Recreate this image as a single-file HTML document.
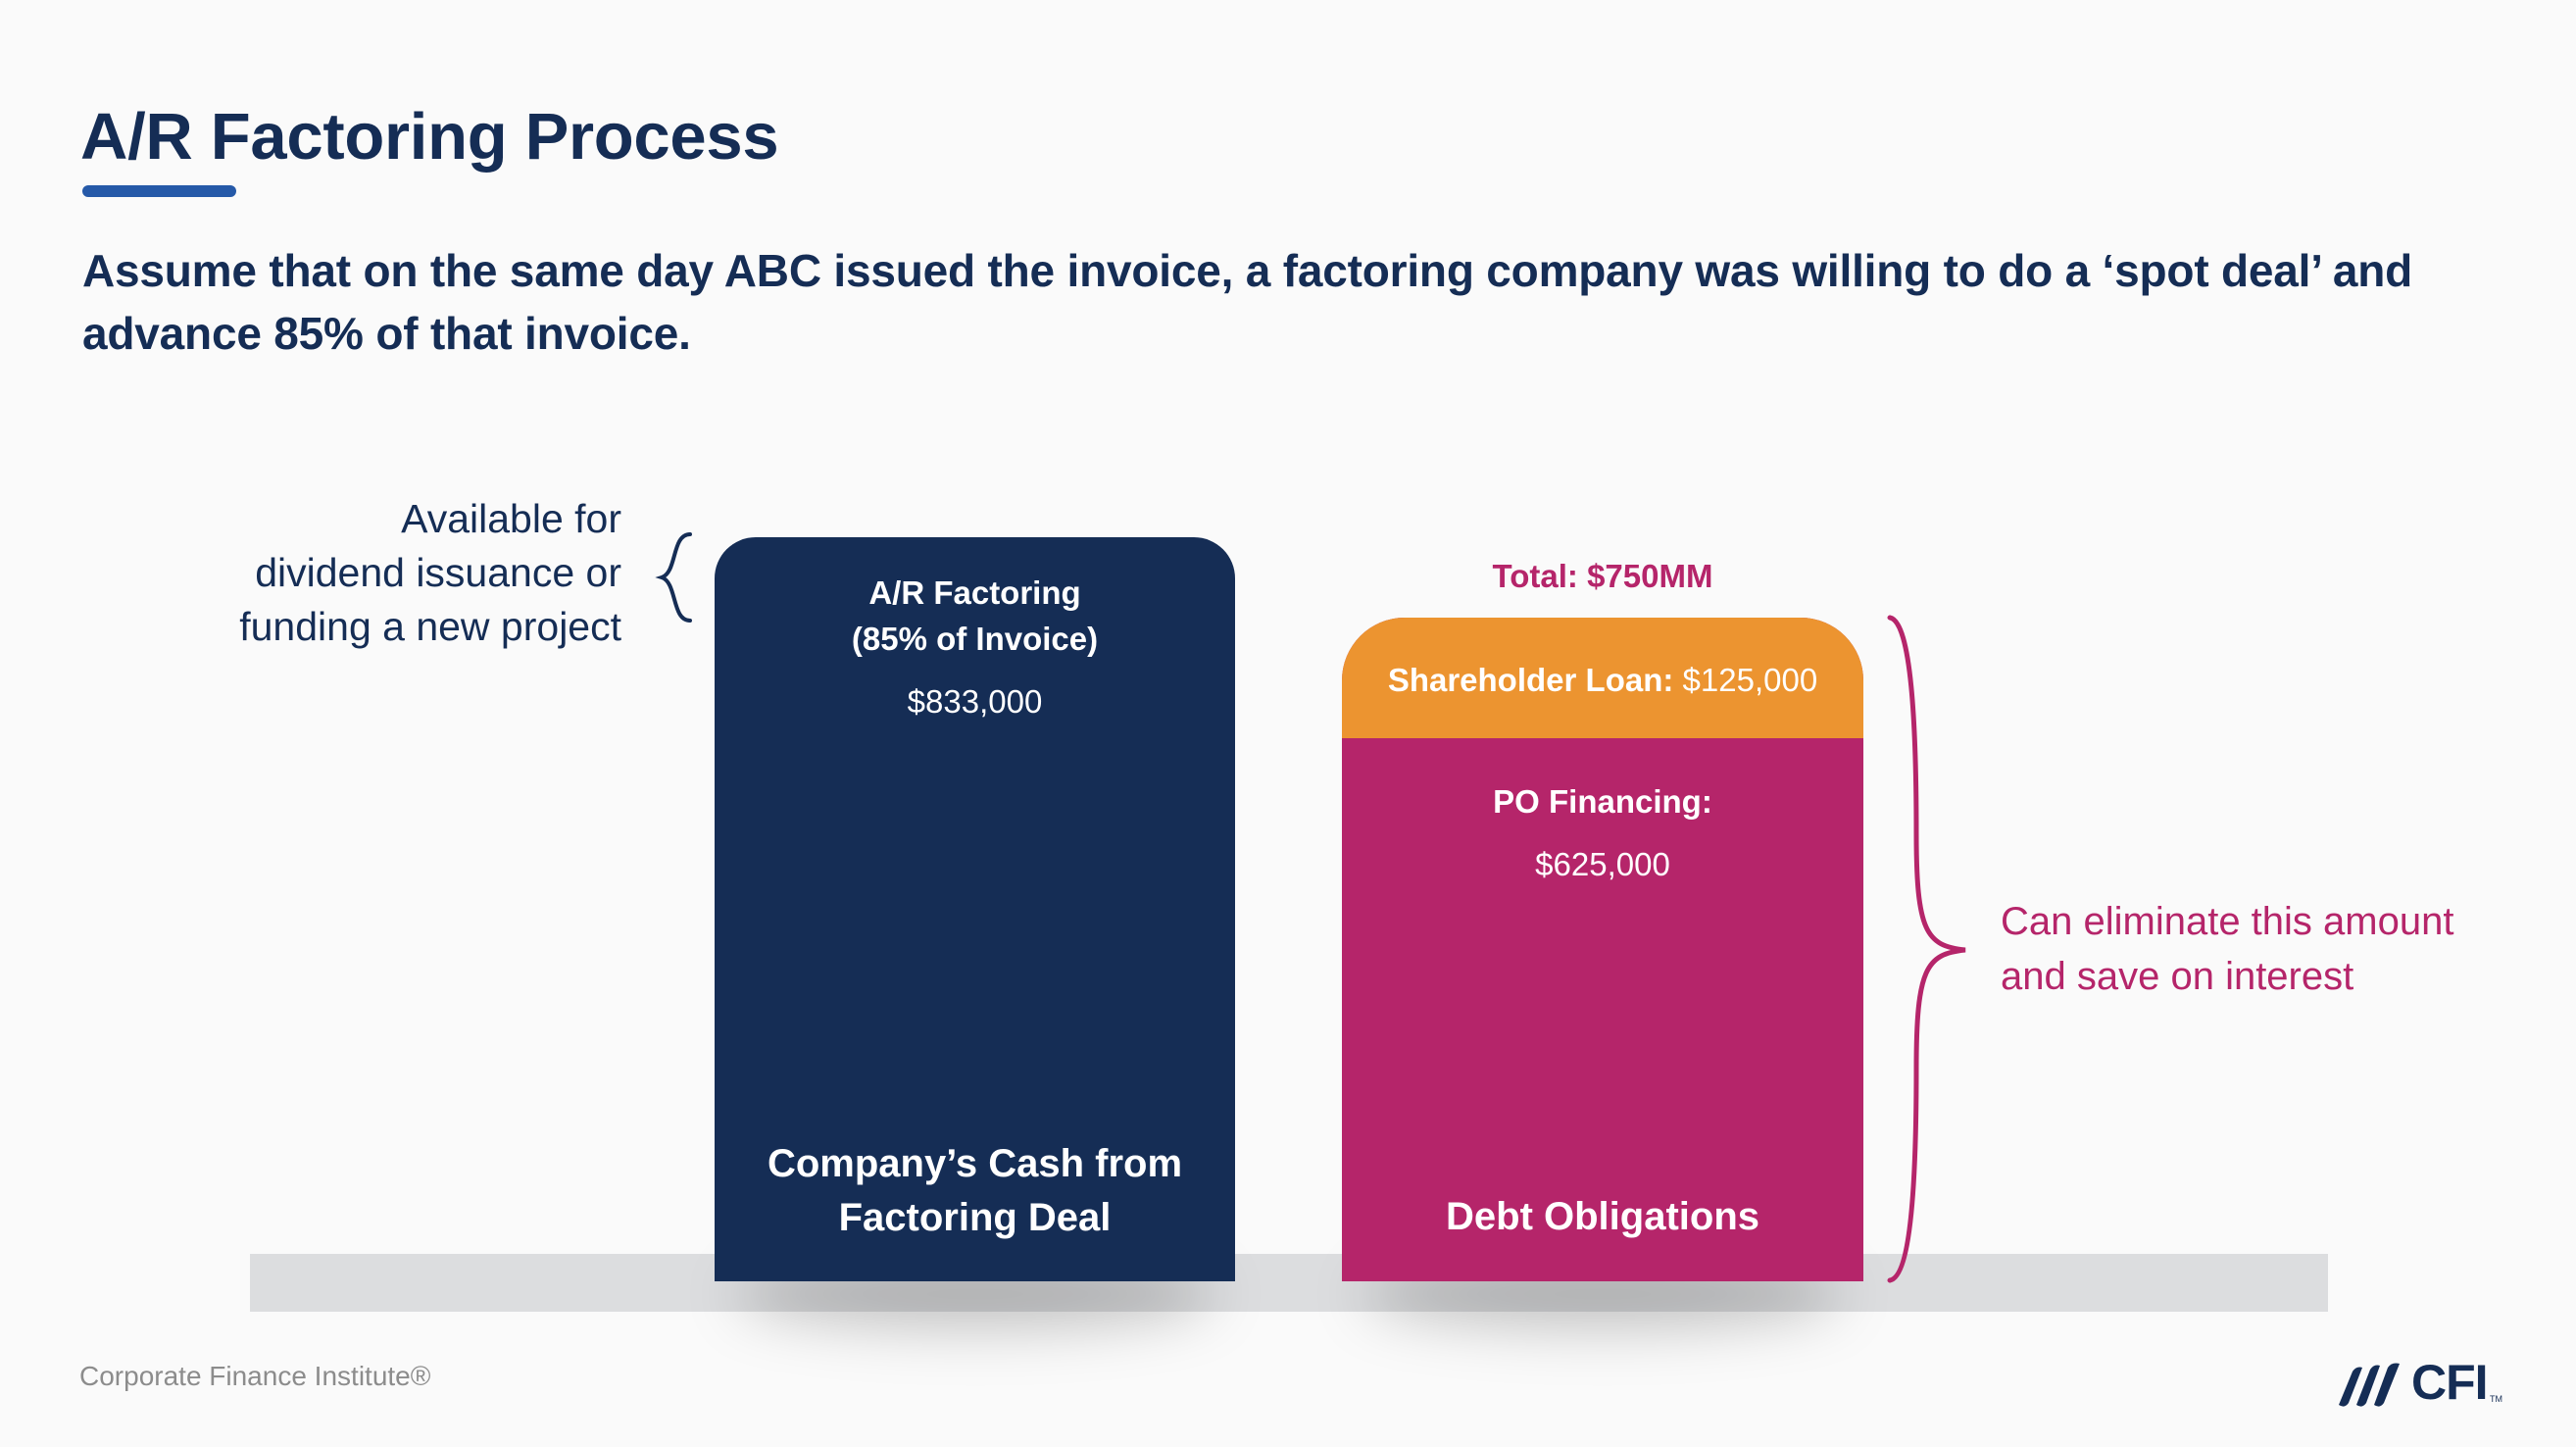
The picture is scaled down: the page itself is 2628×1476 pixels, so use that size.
<!DOCTYPE html>
<html><head><meta charset="utf-8"><style>
*{margin:0;padding:0;box-sizing:border-box}
body{width:2628px;height:1476px;background:#fafafa;position:relative;overflow:hidden;font-family:"Liberation Sans",sans-serif;color:#152d55}
.a{position:absolute;white-space:nowrap}
.c{text-align:center}
.b{font-weight:bold}
</style></head><body>
<div class="a b" style="left:82px;top:100px;font-size:67px;line-height:80px;letter-spacing:-0.3px">A/R Factoring Process</div>
<div class="a" style="left:84px;top:189px;width:157px;height:12px;border-radius:6px;background:#2559a8"></div>
<div class="a b" style="left:84px;top:244px;font-size:46px;line-height:64px;letter-spacing:-0.2px">Assume that on the same day ABC issued the invoice, a factoring company was willing to do a ‘spot deal’ and<br>advance 85% of that invoice.</div>

<div class="a" style="right:1994px;top:502px;font-size:41px;line-height:55px;text-align:right">Available for<br>dividend issuance or<br>funding a new project</div>
<svg class="a" style="left:655px;top:540px" width="60" height="100"><path d="M49 5 C30 5 36 44 20 49 C36 54 30 93 49 93" fill="none" stroke="#152d55" stroke-width="4" stroke-linecap="round"/></svg>

<div class="a" style="left:255px;top:1279px;width:2120px;height:59px;background:#dcdddf"></div>
<div class="a" style="left:750px;top:1285px;width:490px;height:70px;border-radius:50%;background:rgba(0,0,0,0.22);filter:blur(28px)"></div>
<div class="a" style="left:1390px;top:1285px;width:490px;height:70px;border-radius:50%;background:rgba(0,0,0,0.22);filter:blur(28px)"></div>

<div class="a" style="left:729px;top:548px;width:531px;height:759px;background:#152d55;border-radius:42px 42px 0 0;color:#fff">
  <div class="a c b" style="left:0;width:531px;top:33px;font-size:33px;line-height:47px">A/R Factoring<br>(85% of Invoice)</div>
  <div class="a c" style="left:0;width:531px;top:148px;font-size:33px;line-height:40px">$833,000</div>
  <div class="a c b" style="left:0;width:531px;top:612px;font-size:40px;line-height:55px">Company’s Cash from<br>Factoring Deal</div>
</div>

<div class="a c b" style="left:1369px;width:532px;top:568px;font-size:33px;line-height:40px;color:#b5256a">Total: $750MM</div>
<div class="a" style="left:1369px;top:630px;width:532px;height:677px;background:#b5256a;border-radius:64px 64px 0 0;overflow:hidden;color:#fff">
  <div class="a" style="left:0;top:0;width:532px;height:123px;background:#ec9430"></div>
  <div class="a c" style="left:0;width:532px;top:44px;font-size:33px;line-height:40px"><b>Shareholder Loan:</b> $125,000</div>
  <div class="a c b" style="left:0;width:532px;top:168px;font-size:33px;line-height:40px">PO Financing:</div>
  <div class="a c" style="left:0;width:532px;top:232px;font-size:33px;line-height:40px">$625,000</div>
  <div class="a c b" style="left:0;width:532px;top:584px;font-size:40px;line-height:55px">Debt Obligations</div>
</div>
<svg class="a" style="left:1920px;top:620px" width="100" height="700"><path d="M8 10 C30 14 35 120 35 230 C35 330 45 345 85 349 C45 353 35 368 35 470 C35 580 30 682 8 686" fill="none" stroke="#b5256a" stroke-width="5" stroke-linecap="round"/></svg>
<div class="a" style="left:2041px;top:912px;font-size:40px;line-height:56px;color:#b5256a">Can eliminate this amount<br>and save on interest</div>

<div class="a" style="left:81px;top:1387px;font-size:28px;line-height:34px;color:#8c8c8c">Corporate Finance Institute®</div>
<svg class="a" style="left:2380px;top:1385px" width="80" height="52"><g fill="#152d55"><path d="M6 48 L20 14 Q24 8 30 10 L16 46 Q12 52 6 48Z"/><path d="M24 48 L38 12 Q42 6 48 8 L34 46 Q30 52 24 48Z"/><path d="M42 48 L56 10 Q60 4 68 6 L52 46 Q48 52 42 48Z"/></g></svg>
<div class="a b" style="left:2460px;top:1382px;font-size:50px;line-height:56px;letter-spacing:-1px">CFI</div>
<div class="a" style="left:2540px;top:1422px;font-size:9px;color:#152d55">TM</div>
</body></html>
